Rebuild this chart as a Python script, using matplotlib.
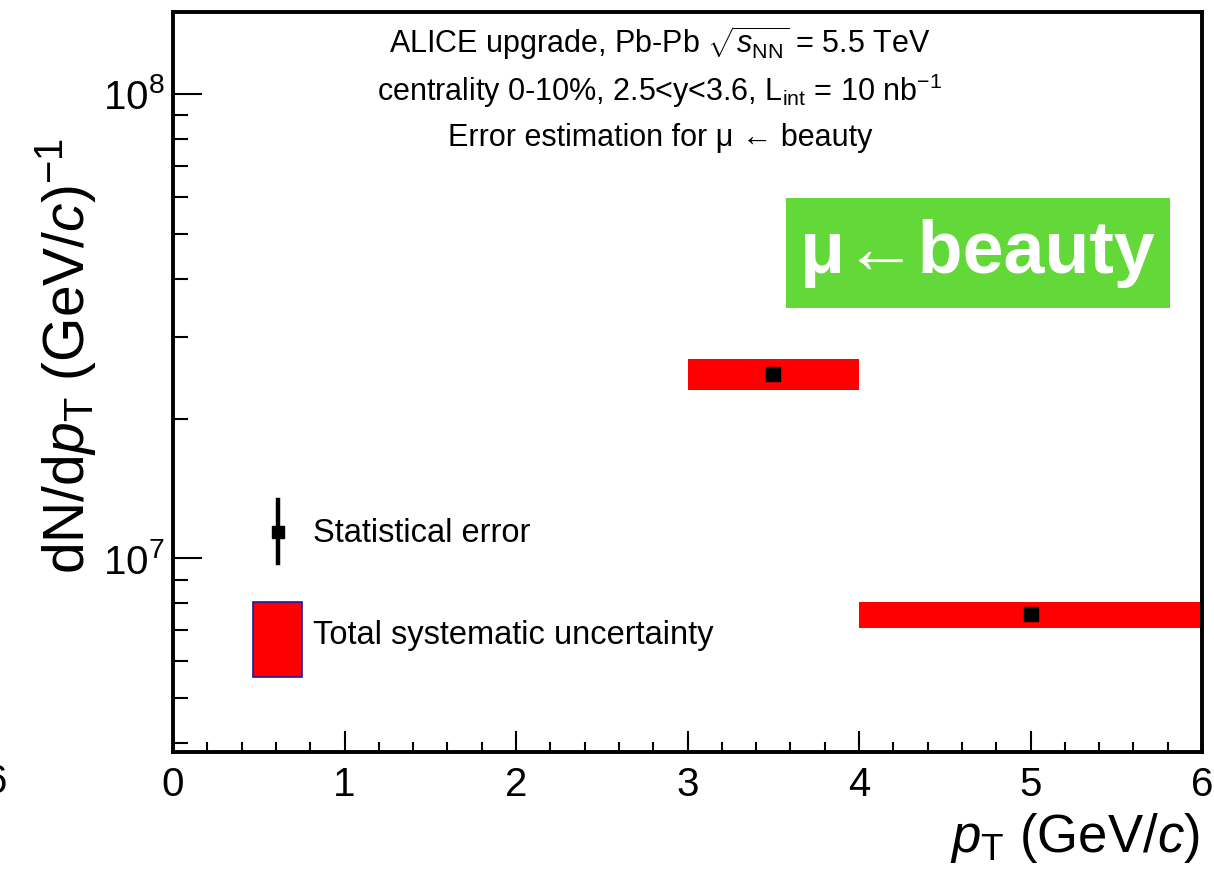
import matplotlib.pyplot as plt
from matplotlib.patches import Rectangle
from matplotlib.lines import Line2D
import numpy as np

# bins and values
pt_lo = np.array([3.0, 4.0])
pt_hi = np.array([4.0, 6.0])
pt_center = np.array([3.5, 5.0])
yield_val = np.array([2.50e7, 7.58e6])
sys_lo = np.array([2.30e7, 7.07e6])
sys_hi = np.array([2.69e7, 8.04e6])

header_lines = [
    r"ALICE upgrade, Pb-Pb $\sqrt{s_{\mathrm{NN}}}$ = 5.5 TeV",
    r"centrality 0-10%, 2.5<y<3.6, L$_{\mathrm{int}}$ = 10 nb$^{-1}$",
    "Error estimation for \u03bc \u2190 beauty",
]

plt.rcParams['font.family'] = ['Liberation Sans', 'DejaVu Sans']
plt.rcParams['mathtext.fontset'] = 'custom'
plt.rcParams['mathtext.rm'] = 'Liberation Sans'
plt.rcParams['mathtext.it'] = 'Liberation Sans:italic'
plt.rcParams['mathtext.bf'] = 'Liberation Sans:bold'

fig = plt.figure(figsize=(12.14, 8.69), dpi=100)
ax = fig.add_axes([173/1214, 117/869, 1029/1214, 740/869])

ax.bar(pt_lo, sys_hi - sys_lo, width=pt_hi - pt_lo, bottom=sys_lo,
       align='edge', color='#ff0000', linewidth=0, zorder=2)
ax.plot(pt_center, yield_val, 's', color='black', markersize=9.5, zorder=3)

ax.set_yscale('log')
ax.set_xlim(0, 6)
ax.set_ylim(3.83e6, 1.5e8)

ax.set_xticks(np.arange(0, 7, 1))
ax.set_xticks(np.arange(0, 6.01, 0.2), minor=True)
ax.tick_params(axis='x', which='major', direction='in', length=15, width=1.5,
               labelsize=29, pad=10)
ax.tick_params(axis='x', which='minor', direction='in', length=7.5, width=1.5)
ax.tick_params(axis='y', which='major', direction='in', length=21, width=1.5,
               labelsize=29, pad=6)
ax.tick_params(axis='y', which='minor', direction='in', length=11, width=1.5,
               labelleft=False)
ax.set_yticks([1e7, 1e8])
ax.set_yticklabels([r'$10^{7}$', r'$10^{8}$'])
ax.set_yticks([k * 1e6 for k in range(4, 10)] + [k * 1e7 for k in range(2, 10)],
              minor=True)
for s in ax.spines.values():
    s.set_linewidth(2.8)

ax.set_xlabel(r'$p_{\mathrm{T}}$ (GeV/$c$)', fontsize=38, ha='right')
ax.xaxis.set_label_coords(0.998, -0.08)
ax.set_ylabel(r'dN/d$p_{\mathrm{T}}$ (GeV/$c$)$^{-1}$', fontsize=41)
ax.yaxis.set_label_coords(-0.073, 0.535)

# header
for i, line in enumerate(header_lines):
    ax.text(0.473, 0.958 - i * 0.064, line, transform=ax.transAxes,
            ha='center', va='center', fontsize=22)

# green label
ax.add_patch(Rectangle((0.5957, 0.60), 0.3733, 0.1486, transform=ax.transAxes,
                       facecolor='#63d839', edgecolor='none', zorder=4))
ax.text(0.782, 0.674, "\u03bc\u2190beauty", transform=ax.transAxes, ha='center',
        va='center', fontsize=53, fontweight='bold', color='white', zorder=5)

# legend drawn by hand
ax.add_line(Line2D([0.102, 0.102], [0.2554, 0.3405], transform=ax.transAxes,
                   color='black', linewidth=3.2))
ax.add_line(Line2D([0.102], [0.297], transform=ax.transAxes, marker='s',
                   color='black', markersize=9))
ax.add_patch(Rectangle((0.0777, 0.1014), 0.0477, 0.1013, transform=ax.transAxes,
                       facecolor='#ff0000', edgecolor='#1a1aa0', linewidth=1.2))
ax.text(0.136, 0.295, "Statistical error", transform=ax.transAxes,
        ha='left', va='center', fontsize=23.5)
ax.text(0.136, 0.158, "Total systematic uncertainty", transform=ax.transAxes,
        ha='left', va='center', fontsize=23.5)

# cut-off leftover label at the left edge
fig.text(-0.012, 117/869 - 0.034, "6", fontsize=29, ha='left', va='center')

fig.savefig('out.png', dpi=100)
